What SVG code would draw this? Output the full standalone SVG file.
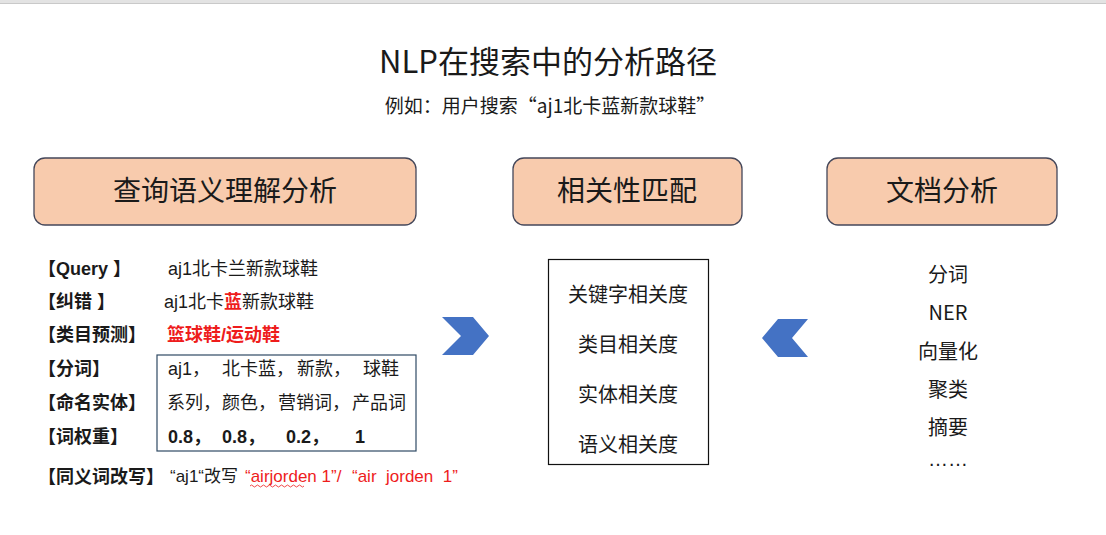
<svg xmlns="http://www.w3.org/2000/svg" width="1106" height="535" viewBox="0 0 1106 535">
<style>
text{font-family:"Liberation Sans","Noto Sans CJK SC",sans-serif;fill:#1a1a1a;}
.cjk{font-family:"Noto Sans CJK SC","Liberation Sans",sans-serif;}
.hdr{fill:#f8cbad;stroke:#44475a;stroke-width:1.3;}
.ht{font-size:28px;text-anchor:middle;}
.lbl{font-size:18px;font-weight:bold;}
.val{font-size:18px;}
.red{fill:#ee1c1c;}
.mt{font-size:20px;text-anchor:middle;}
.chev{fill:#4472c4;}
</style>
<rect x="0" y="0" width="1106" height="3" fill="#e3e3e3"/>
<line x1="0" y1="3.5" x2="1106" y2="3.5" stroke="#c9c9c9" stroke-width="1"/>
<g id="title">
<text x="548" y="73" class="cjk" font-size="31" text-anchor="middle">NLP在搜索中的分析路径</text>
<text x="550" y="113" class="cjk" font-size="19" text-anchor="middle">例如：用户搜索“aj1北卡蓝新款球鞋”</text>
</g>
<g id="node-query">
<rect class="hdr" x="34" y="158" width="382" height="67" rx="11"/>
<text class="ht cjk" x="225" y="201">查询语义理解分析</text>
</g>
<g id="node-match">
<rect class="hdr" x="513" y="158" width="229" height="67" rx="11"/>
<text class="ht cjk" x="627" y="201">相关性匹配</text>
</g>
<g id="node-doc">
<rect class="hdr" x="827" y="158" width="230" height="67" rx="11"/>
<text class="ht cjk" x="942" y="201">文档分析</text>
</g>
<g id="node-query-detail">
<text class="lbl" x="38" y="274.5">【Query 】</text>
<text class="val" x="168" y="274.5">aj1北卡兰新款球鞋</text>
<text class="lbl" x="38" y="307.5">【纠错 】</text>
<text class="val" x="164" y="307.5">aj1北卡<tspan class="red" font-weight="bold">蓝</tspan>新款球鞋</text>
<text class="lbl" x="38" y="340.5">【类目预测】</text>
<text class="val red" x="167" y="340.5" font-weight="bold">篮球鞋/运动鞋</text>
<rect x="157" y="355" width="259" height="96" fill="none" stroke="#2f4a64" stroke-width="1.2"/>
<text class="lbl" x="38" y="374.5">【分词】</text>
<text class="val" x="168" y="374.5">aj1，</text>
<text class="val" x="222" y="374.5">北卡蓝，</text>
<text class="val" x="297" y="374.5">新款，</text>
<text class="val" x="363" y="374.5">球鞋</text>
<text class="lbl" x="38" y="408.5">【命名实体】</text>
<text class="val" x="167" y="408.5">系列，</text>
<text class="val" x="222" y="408.5">颜色，</text>
<text class="val" x="278" y="408.5">营销词，</text>
<text class="val" x="352" y="408.5">产品词</text>
<text class="lbl" x="38" y="442.5">【词权重】</text>
<text class="val" x="168" y="442.5" font-weight="bold">0.8，</text>
<text class="val" x="222" y="442.5" font-weight="bold">0.8，</text>
<text class="val" x="286" y="442.5" font-weight="bold">0.2，</text>
<text class="val" x="355" y="442.5" font-weight="bold">1</text>
<text class="lbl" x="38" y="482.5">【同义词改写】</text>
<text x="170" y="482" font-size="17">“aj1“改写</text>
<text class="red" x="245" y="482" font-size="17">“airjorden 1”/</text>
<text class="red" x="352" y="482" font-size="17" xml:space="preserve">“air  jorden  1”</text>
<path d="M250 486 q1.5 -2 3 0 t3 0 t3 0 t3 0 t3 0 t3 0 t3 0 t3 0 t3 0 t3 0 t3 0 t3 0 t3 0 t3 0 t3 0 t3 0 t3 0 t3 0" fill="none" stroke="#ee1c1c" stroke-width="0.8"/>
</g>
<g id="node-match-detail">
<rect x="548.5" y="259.5" width="160" height="205" fill="#fff" stroke="#111" stroke-width="1.2"/>
<text class="mt cjk" x="628" y="302">关键字相关度</text>
<text class="mt cjk" x="628" y="352">类目相关度</text>
<text class="mt cjk" x="628" y="402">实体相关度</text>
<text class="mt cjk" x="628" y="452">语义相关度</text>
</g>
<g id="node-doc-detail">
<text class="mt cjk" x="948" y="282">分词</text>
<text class="mt cjk" x="948" y="320">NER</text>
<text class="mt cjk" x="948" y="359">向量化</text>
<text class="mt cjk" x="948" y="397">聚类</text>
<text class="mt cjk" x="948" y="435">摘要</text>
<text class="mt" x="948" y="466" font-size="16">……</text>
</g>
<g id="connectors">
<polygon class="chev" points="442,317 473,317 489,336 473,355 442,355 461,336"/>
<polygon class="chev" points="808,319 778,319 762,338 778,357 808,357 792,338"/>
</g>
</svg>
